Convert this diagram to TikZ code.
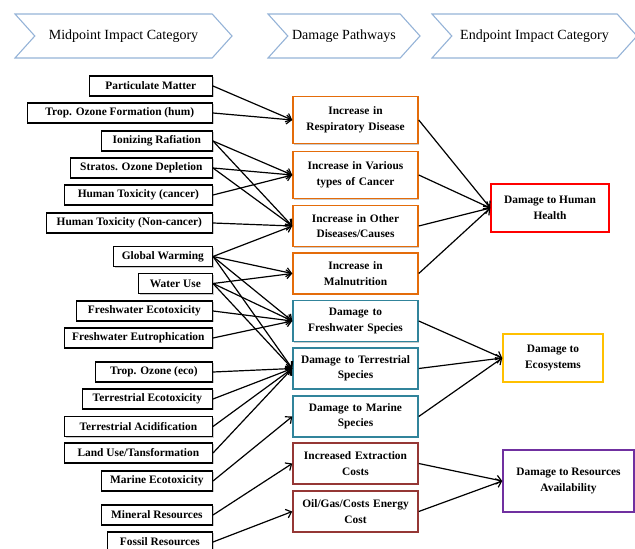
\documentclass[tikz,border=0pt]{standalone}
\usepackage{fontspec}
\setmainfont{Liberation Serif}
\usetikzlibrary{arrows.meta,shapes.symbols,shadows}

\definecolor{chevblue}{HTML}{95B3D7}
\definecolor{pathorange}{HTML}{E46C0A}
\definecolor{pathteal}{HTML}{31849B}
\definecolor{pathred}{HTML}{953735}
\definecolor{endred}{HTML}{FF0000}
\definecolor{endgold}{HTML}{FFC000}
\definecolor{endpurple}{HTML}{7030A0}

\begin{document}
\begin{tikzpicture}[x=1pt, y=-1pt, line width=1.2pt,
  header/.style={signal, signal from=west, signal to=east, signal pointer angle=96,
    draw=chevblue, line width=1.1pt, minimum height=44pt, inner sep=0pt,
    font=\fontsize{14}{16}\selectfont},
  boxshadow/.style={drop shadow={shadow xshift=1.2pt, shadow yshift=-1.2pt, opacity=0.35, fill=black!60}},
  midbox/.style={draw=black, fill=white, line width=1.3pt, minimum height=20pt,
    anchor=east, inner sep=0pt, boxshadow, font=\bfseries\fontsize{11.4}{14}\selectfont},
  pathbox/.style={draw, fill=white, line width=1.5pt, minimum width=125pt, text width=121pt,
    align=center, inner sep=0pt, boxshadow, font=\bfseries\fontsize{11.4}{15.5}\selectfont},
  endbox/.style={draw, fill=white, line width=1.5pt, align=center, inner sep=0pt,
    boxshadow, font=\bfseries\fontsize{11.4}{15.5}\selectfont},
  arr/.style={-{Straight Barb[length=5pt,width=9pt]}, line width=1.2pt}]
  \useasboundingbox (0,0) rectangle (635,549);

  % headers
  \node[header, minimum width=217pt] (hmid) at (123.5,36) {Midpoint Impact Category};
  \node[header, minimum width=152pt] (hpath) at (344,36) {Damage Pathways};
  \node[header, minimum width=205pt] (hend) at (534.5,36) {Endpoint Impact Category};

  % midpoint categories
  \node[midbox, minimum width=123pt] (pm) at (213,86) {Particulate Matter};
  \node[midbox, minimum width=185pt] (tofh) at (213,113) {Trop. Ozone Formation (hum)};
  \node[midbox, minimum width=111pt] (ion) at (213,141) {Ionizing Rafiation};
  \node[midbox, minimum width=142pt] (sod) at (213,168) {Stratos. Ozone Depletion};
  \node[midbox, minimum width=148pt] (htc) at (213,195) {Human Toxicity (cancer)};
  \node[midbox, minimum width=166pt] (htn) at (213,223) {Human Toxicity (Non-cancer)};
  \node[midbox, minimum width=99pt] (gw) at (213,256.5) {Global Warming};
  \node[midbox, minimum width=74pt] (wu) at (213,283.5) {Water Use};
  \node[midbox, minimum width=136pt] (fet) at (213,311) {Freshwater Ecotoxicity};
  \node[midbox, minimum width=148pt] (feu) at (213,338) {Freshwater Eutrophication};
  \node[midbox, minimum width=117pt] (toe) at (213,372) {Trop. Ozone (eco)};
  \node[midbox, minimum width=130pt] (tet) at (213,399) {Terrestrial Ecotoxicity};
  \node[midbox, minimum width=148pt] (tac) at (213,426.5) {Terrestrial Acidification};
  \node[midbox, minimum width=148pt] (lut) at (213,453) {Land Use/Tansformation};
  \node[midbox, minimum width=111pt] (met) at (213,481) {Marine Ecotoxicity};
  \node[midbox, minimum width=111pt] (mir) at (213,515) {Mineral Resources};
  \node[midbox, minimum width=105pt] (fos) at (213,542) {Fossil Resources};

  % damage pathways
  \node[pathbox, draw=pathorange, minimum height=47pt] (resp) at (355.5,120) {Increase in\\Respiratory Disease};
  \node[pathbox, draw=pathorange, minimum height=47pt] (canc) at (355.5,175) {Increase in Various\\types of Cancer};
  \node[pathbox, draw=pathorange, minimum height=41pt] (othr) at (355.5,226) {Increase in Other\\Diseases/Causes};
  \node[pathbox, draw=pathorange, minimum height=41pt] (maln) at (355.5,273.5) {Increase in\\Malnutrition};
  \node[pathbox, draw=pathteal, minimum height=41pt] (fwsp) at (355.5,321) {Damage to\\Freshwater Species};
  \node[pathbox, draw=pathteal, minimum height=41pt] (tesp) at (355.5,368.5) {Damage to Terrestrial\\Species};
  \node[pathbox, draw=pathteal, minimum height=41pt] (masp) at (355.5,416.5) {Damage to Marine\\Species};
  \node[pathbox, draw=pathred, minimum height=41pt] (extr) at (355.5,463.5) {Increased Extraction\\Costs};
  \node[pathbox, draw=pathred, minimum height=41pt] (enrg) at (355.5,511.5) {Oil/Gas/Costs Energy\\Cost};

  % endpoint categories
  \node[endbox, draw=endred, minimum width=118pt, minimum height=48pt] (hh) at (550,208) {Damage to Human\\Health};
  \node[endbox, draw=endgold, minimum width=100pt, minimum height=48pt] (eco) at (553,358) {Damage to\\Ecosystems};
  \node[endbox, draw=endpurple, minimum width=131pt, minimum height=62pt] (res) at (568.5,481) {Damage to Resources\\Availability};

  % midpoint -> pathway
  \draw[arr] (pm.east) -- (resp.west);
  \draw[arr] (tofh.east) -- (resp.west);
  \draw[arr] (ion.east) -- (canc.west);
  \draw[arr] (ion.east) -- (othr.west);
  \draw[arr] (sod.east) -- (canc.west);
  \draw[arr] (sod.east) -- (othr.west);
  \draw[arr] (htc.east) -- (canc.west);
  \draw[arr] (htn.east) -- (othr.west);
  \draw[arr] (gw.east) -- (othr.west);
  \draw[arr] (gw.east) -- (maln.west);
  \draw[arr] (gw.east) -- (fwsp.west);
  \draw[arr] (gw.east) -- (tesp.west);
  \draw[arr] (wu.east) -- (maln.west);
  \draw[arr] (wu.east) -- (fwsp.west);
  \draw[arr] (wu.east) -- (tesp.west);
  \draw[arr] (fet.east) -- (fwsp.west);
  \draw[arr] (feu.east) -- (fwsp.west);
  \draw[arr] (toe.east) -- (tesp.west);
  \draw[arr] (tet.east) -- (tesp.west);
  \draw[arr] (tac.east) -- (tesp.west);
  \draw[arr] (lut.east) -- (tesp.west);
  \draw[arr] (met.east) -- (masp.west);
  \draw[arr] (mir.east) -- (extr.west);
  \draw[arr] (fos.east) -- (enrg.west);

  % pathway -> endpoint
  \draw[arr] (resp.east) -- (hh.west);
  \draw[arr] (canc.east) -- (hh.west);
  \draw[arr] (othr.east) -- (hh.west);
  \draw[arr] (maln.east) -- (hh.west);
  \draw[arr] (fwsp.east) -- (eco.west);
  \draw[arr] (tesp.east) -- (eco.west);
  \draw[arr] (masp.east) -- (eco.west);
  \draw[arr] (extr.east) -- (res.west);
  \draw[arr] (enrg.east) -- (res.west);
\end{tikzpicture}
\end{document}
